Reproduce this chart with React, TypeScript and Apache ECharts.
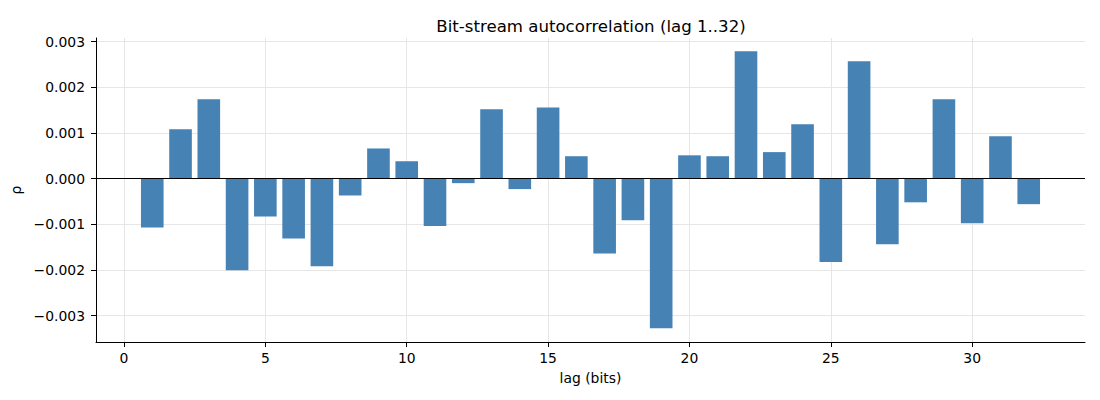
import { useEffect, useRef } from 'react';
import * as echarts from 'echarts';

// lag 1..32
const lags = Array.from({ length: 32 }, (_, i) => i + 1);

const rho = [
    -0.00107, 0.00108, 0.00174, -0.00201, -0.00083, -0.00131, -0.00192, -0.00037,
    0.00066, 0.00038, -0.00104, -0.0001, 0.00152, -0.00023, 0.00156, 0.00049,
    -0.00164, -0.00091, -0.00328, 0.00051, 0.00049, 0.00279, 0.00058, 0.00119,
    -0.00183, 0.00257, -0.00144, -0.00052, 0.00174, -0.00098, 0.00093, -0.00056,
];

const xTicks = [0, 5, 10, 15, 20, 25, 30];
const yTicks = [-0.003, -0.002, -0.001, 0, 0.001, 0.002, 0.003];

const FONT = '"DejaVu Sans", sans-serif';

export default function App() {
    const chartRef = useRef<HTMLDivElement>(null);

    useEffect(() => {
        if (!chartRef.current) return;
        const chart = echarts.init(chartRef.current, undefined, { renderer: 'svg' });

        const xMin = -0.99;
        const xMax = 33.99;
        const gridLeft = 96;
        const gridRight = 15;
        const plotWidth = 1100 - gridLeft - gridRight;
        const barWidth = (0.8 * plotWidth) / (xMax - xMin);

        const fmtY = (v: number) => v.toFixed(3).replace('-', '\u2212');

        const option = {
            animation: false,
            textStyle: { fontFamily: FONT },
            title: {
                text: 'Bit-stream autocorrelation (lag 1..32)',
                left: 586,
                textAlign: 'center',
                top: 13,
                textStyle: { fontFamily: FONT, fontSize: 16.6, fontWeight: 'normal', color: '#000' },
            },
            grid: { left: gridLeft, right: gridRight, top: 38, bottom: 58 },
            xAxis: {
                type: 'value',
                min: xMin,
                max: xMax,
                name: 'lag (bits)',
                nameLocation: 'middle',
                nameGap: 29,
                nameTextStyle: { fontFamily: FONT, fontSize: 13.9, color: '#000' },
                axisLine: { show: true, onZero: false, lineStyle: { color: '#000', width: 1 } },
                axisTick: { show: true, length: 5, customValues: xTicks, lineStyle: { color: '#000' } },
                axisLabel: {
                    customValues: xTicks,
                    fontFamily: FONT,
                    fontSize: 13.9,
                    color: '#000',
                    margin: 9,
                },
                splitLine: { show: true, lineStyle: { color: '#e6e6e6', width: 1 } },
            },
            yAxis: {
                type: 'value',
                min: -0.00358,
                max: 0.00308,
                name: 'ρ',
                nameLocation: 'middle',
                nameGap: 70,
                nameRotate: 90,
                nameTextStyle: { fontFamily: FONT, fontSize: 13.9, color: '#000' },
                axisLine: { show: true, onZero: false, lineStyle: { color: '#000', width: 1 } },
                axisTick: { show: true, length: 5, customValues: yTicks, lineStyle: { color: '#000' } },
                axisLabel: {
                    customValues: yTicks,
                    fontFamily: FONT,
                    fontSize: 13.9,
                    color: '#000',
                    margin: 11,
                    formatter: fmtY,
                },
                splitLine: { show: true, lineStyle: { color: '#e6e6e6', width: 1 } },
            },
            series: [
                {
                    type: 'bar',
                    data: lags.map((l, i) => [l, rho[i]]),
                    barWidth,
                    itemStyle: { color: '#4682B4' },
                    markLine: {
                        silent: true,
                        symbol: 'none',
                        label: { show: false },
                        lineStyle: { color: '#000', width: 1, type: 'solid' },
                        data: [{ yAxis: 0 }],
                    },
                },
            ],
        };

        chart.setOption(option);

        return () => {
            chart.dispose();
        };
    }, []);

    return (
        <div
            ref={chartRef}
            style={{ position: 'absolute', left: 0, top: 0, width: 1100, height: 400, background: '#fff' }}
        />
    );
}
